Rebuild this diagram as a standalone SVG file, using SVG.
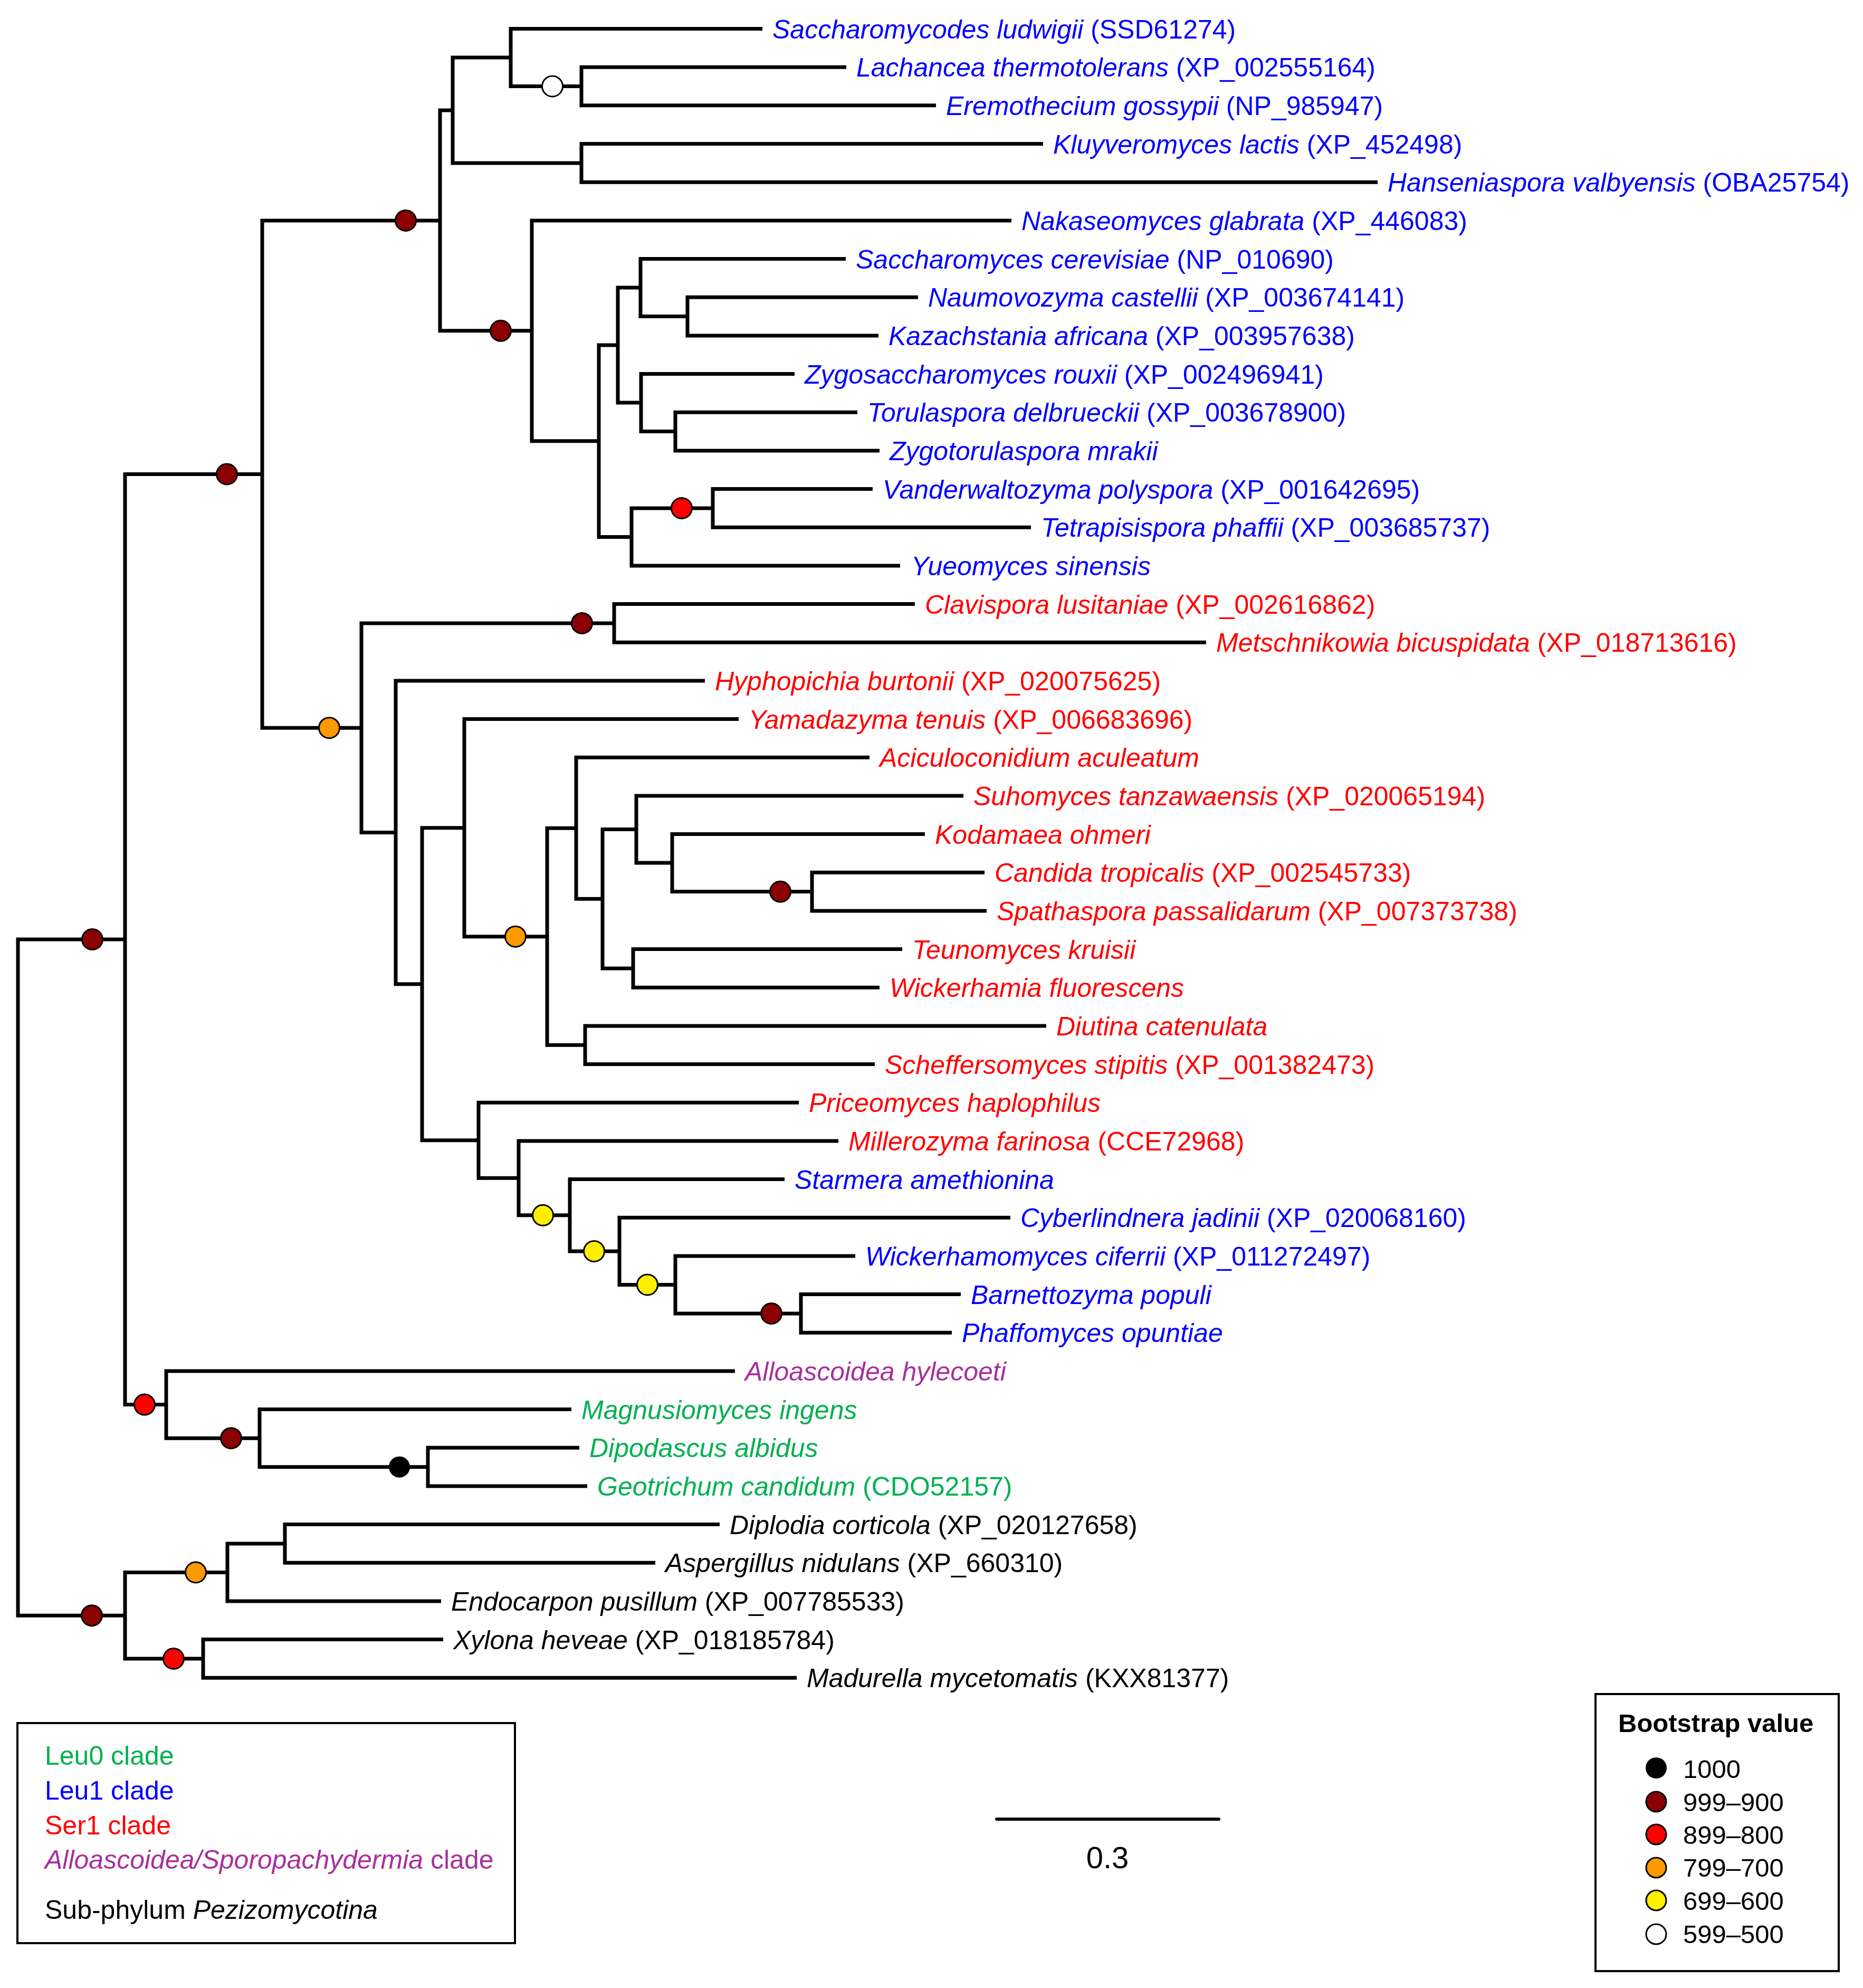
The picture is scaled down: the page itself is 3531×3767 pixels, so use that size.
<svg xmlns="http://www.w3.org/2000/svg" width="3531" height="3767" viewBox="0 0 3531 3767">
<style>
.br{fill:none;stroke:#000;stroke-width:7;stroke-linejoin:miter;stroke-linecap:butt}
text{font-family:"Liberation Sans",Arial,Helvetica,sans-serif;font-size:50px}
.i{font-style:italic}
.bl{fill:#0000FF}.rd{fill:#FF0000}.gr{fill:#00B050}.pu{fill:#A8309C}.bk{fill:#000}
.d{stroke:#000;stroke-width:3}
.c0{fill:#000}.c9{fill:#8B0000}.c8{fill:#FF0000}.c7{fill:#FF9900}.c6{fill:#FFEE00}.c5{fill:#FFFFFF}
.box{fill:none;stroke:#000;stroke-width:4}
</style>
<rect x="0" y="0" width="3531" height="3767" fill="#FFFFFF"/>
<g id="connectors">
<path class="br" d="M1604,127.2 H1102 V199.8 H1774"/>
<path class="br" d="M1445,54.5 H968 V163.5 H1102"/>
<path class="br" d="M1977,272.5 H1102 V345.2 H2611"/>
<path class="br" d="M968,109 H858 V308.9 H1102"/>
<path class="br" d="M1740,563.2 H1303 V635.9 H1665"/>
<path class="br" d="M1603,490.5 H1214 V599.6 H1303"/>
<path class="br" d="M1625,781.2 H1280 V853.9 H1667"/>
<path class="br" d="M1506,708.5 H1215 V817.6 H1280"/>
<path class="br" d="M1214,545 H1171 V763 H1215"/>
<path class="br" d="M1654,926.5 H1351 V999.2 H1954"/>
<path class="br" d="M1351,962.9 H1197 V1071.9 H1706"/>
<path class="br" d="M1171,654 H1135 V1017.4 H1197"/>
<path class="br" d="M1917,417.9 H1008 V835.7 H1135"/>
<path class="br" d="M858,209 H834 V626.8 H1008"/>
<path class="br" d="M1734,1144.6 H1164 V1217.2 H2286"/>
<path class="br" d="M1866,1653.2 H1539 V1725.9 H1870"/>
<path class="br" d="M1753,1580.6 H1274 V1689.6 H1539"/>
<path class="br" d="M1826,1507.9 H1206 V1635.1 H1274"/>
<path class="br" d="M1710,1798.6 H1200 V1871.3 H1667"/>
<path class="br" d="M1206,1571.5 H1142 V1835 H1200"/>
<path class="br" d="M1648,1435.2 H1092 V1703.2 H1142"/>
<path class="br" d="M1983,1943.9 H1109 V2016.6 H1658"/>
<path class="br" d="M1092,1569.2 H1037 V1980.3 H1109"/>
<path class="br" d="M1400,1362.6 H880 V1774.7 H1037"/>
<path class="br" d="M1821,2452.6 H1518 V2525.3 H1804"/>
<path class="br" d="M1621,2379.9 H1280 V2489 H1518"/>
<path class="br" d="M1915,2307.3 H1174 V2434.4 H1280"/>
<path class="br" d="M1487,2234.6 H1080 V2370.9 H1174"/>
<path class="br" d="M1589,2161.9 H983 V2302.8 H1080"/>
<path class="br" d="M1514,2089.3 H907 V2232.3 H983"/>
<path class="br" d="M880,1568.7 H800 V2160.8 H907"/>
<path class="br" d="M1336,1289.9 H750 V1864.8 H800"/>
<path class="br" d="M1164,1180.9 H685 V1577.4 H750"/>
<path class="br" d="M834,417.9 H497 V1379.2 H685"/>
<path class="br" d="M1098,2743.3 H811 V2816 H1113"/>
<path class="br" d="M1083,2670.6 H492 V2779.7 H811"/>
<path class="br" d="M1393,2598 H315 V2725.2 H492"/>
<path class="br" d="M497,898.5 H237 V2661.6 H315"/>
<path class="br" d="M1364,2888.6 H540 V2961.3 H1242"/>
<path class="br" d="M540,2925 H431 V3034 H836"/>
<path class="br" d="M840,3106.6 H385 V3179.3 H1510"/>
<path class="br" d="M431,2979.5 H237 V3143 H385"/>
<path class="br" d="M237,1780 H34 V3061.2 H237"/>
</g>
<g id="bootstrap-dots">
<g id="n-lachancea-eremothecium"><circle class="d c5" cx="1047" cy="163.5" r="19.5"/></g>
<g id="n-nakaseomyces-clade"><circle class="d c9" cx="949" cy="626.8" r="19.5"/></g>
<g id="n-saccharomycetaceae"><circle class="d c9" cx="769" cy="417.9" r="19.5"/></g>
<g id="n-vanderwaltozyma-tetrapisispora"><circle class="d c8" cx="1292" cy="962.9" r="19.5"/></g>
<g id="n-saccharomycetaceae-cug"><circle class="d c9" cx="430" cy="898.5" r="19.5"/></g>
<g id="n-saccharomycotina"><circle class="d c9" cx="175" cy="1780" r="19.5"/></g>
<g id="n-clavispora-metschnikowia"><circle class="d c9" cx="1103" cy="1180.9" r="19.5"/></g>
<g id="n-cug-clade"><circle class="d c7" cx="624" cy="1379.2" r="19.5"/></g>
<g id="n-aciculoconidium-clade"><circle class="d c7" cx="977" cy="1774.7" r="19.5"/></g>
<g id="n-candida-spathaspora"><circle class="d c9" cx="1479" cy="1689.6" r="19.5"/></g>
<g id="n-starmera-clade"><circle class="d c6" cx="1029" cy="2302.8" r="19.5"/></g>
<g id="n-cyberlindnera-clade"><circle class="d c6" cx="1126" cy="2370.9" r="19.5"/></g>
<g id="n-wickerhamomyces-clade"><circle class="d c6" cx="1227" cy="2434.4" r="19.5"/></g>
<g id="n-barnettozyma-phaffomyces"><circle class="d c9" cx="1462" cy="2489" r="19.5"/></g>
<g id="n-alloascoidea-dipodascaceae"><circle class="d c8" cx="274" cy="2661.6" r="19.5"/></g>
<g id="n-dipodascaceae"><circle class="d c9" cx="438" cy="2725.2" r="19.5"/></g>
<g id="n-dipodascus-geotrichum"><circle class="c0" cx="757" cy="2779.7" r="20"/></g>
<g id="n-diplodia-endocarpon"><circle class="d c7" cx="371" cy="2979.5" r="19.5"/></g>
<g id="n-xylona-madurella"><circle class="d c8" cx="329" cy="3143" r="19.5"/></g>
<g id="n-pezizomycotina"><circle class="d c9" cx="174" cy="3061.2" r="19.5"/></g>
</g>
<g id="leaves">
<g id="leaf01"><text class="bl" x="1464" y="72.5"><tspan class="i">Saccharomycodes ludwigii</tspan> (SSD61274)</text></g>
<g id="leaf02"><text class="bl" x="1623" y="145.2"><tspan class="i">Lachancea thermotolerans</tspan> (XP_002555164)</text></g>
<g id="leaf03"><text class="bl" x="1793" y="217.8"><tspan class="i">Eremothecium gossypii</tspan> (NP_985947)</text></g>
<g id="leaf04"><text class="bl" x="1996" y="290.5"><tspan class="i">Kluyveromyces lactis</tspan> (XP_452498)</text></g>
<g id="leaf05"><text class="bl" x="2630" y="363.2"><tspan class="i">Hanseniaspora valbyensis</tspan> (OBA25754)</text></g>
<g id="leaf06"><text class="bl" x="1936" y="435.9"><tspan class="i">Nakaseomyces glabrata</tspan> (XP_446083)</text></g>
<g id="leaf07"><text class="bl" x="1622" y="508.5"><tspan class="i">Saccharomyces cerevisiae</tspan> (NP_010690)</text></g>
<g id="leaf08"><text class="bl" x="1759" y="581.2"><tspan class="i">Naumovozyma castellii</tspan> (XP_003674141)</text></g>
<g id="leaf09"><text class="bl" x="1684" y="653.9"><tspan class="i">Kazachstania africana</tspan> (XP_003957638)</text></g>
<g id="leaf10"><text class="bl" x="1525" y="726.5"><tspan class="i">Zygosaccharomyces rouxii</tspan> (XP_002496941)</text></g>
<g id="leaf11"><text class="bl" x="1644" y="799.2"><tspan class="i">Torulaspora delbrueckii</tspan> (XP_003678900)</text></g>
<g id="leaf12"><text class="bl i" x="1686" y="871.9">Zygotorulaspora mrakii</text></g>
<g id="leaf13"><text class="bl" x="1673" y="944.5"><tspan class="i">Vanderwaltozyma polyspora</tspan> (XP_001642695)</text></g>
<g id="leaf14"><text class="bl" x="1973" y="1017.2"><tspan class="i">Tetrapisispora phaffii</tspan> (XP_003685737)</text></g>
<g id="leaf15"><text class="bl i" x="1727" y="1089.9">Yueomyces sinensis</text></g>
<g id="leaf16"><text class="rd" x="1753" y="1162.6"><tspan class="i">Clavispora lusitaniae</tspan> (XP_002616862)</text></g>
<g id="leaf17"><text class="rd" x="2305" y="1235.2"><tspan class="i">Metschnikowia bicuspidata</tspan> (XP_018713616)</text></g>
<g id="leaf18"><text class="rd" x="1355" y="1307.9"><tspan class="i">Hyphopichia burtonii</tspan> (XP_020075625)</text></g>
<g id="leaf19"><text class="rd" x="1419" y="1380.6"><tspan class="i">Yamadazyma tenuis</tspan> (XP_006683696)</text></g>
<g id="leaf20"><text class="rd i" x="1667" y="1453.2">Aciculoconidium aculeatum</text></g>
<g id="leaf21"><text class="rd" x="1845" y="1525.9"><tspan class="i">Suhomyces tanzawaensis</tspan> (XP_020065194)</text></g>
<g id="leaf22"><text class="rd i" x="1772" y="1598.6">Kodamaea ohmeri</text></g>
<g id="leaf23"><text class="rd" x="1885" y="1671.2"><tspan class="i">Candida tropicalis</tspan> (XP_002545733)</text></g>
<g id="leaf24"><text class="rd" x="1889" y="1743.9"><tspan class="i">Spathaspora passalidarum</tspan> (XP_007373738)</text></g>
<g id="leaf25"><text class="rd i" x="1729" y="1816.6">Teunomyces kruisii</text></g>
<g id="leaf26"><text class="rd i" x="1686" y="1889.3">Wickerhamia fluorescens</text></g>
<g id="leaf27"><text class="rd i" x="2002" y="1961.9">Diutina catenulata</text></g>
<g id="leaf28"><text class="rd" x="1677" y="2034.6"><tspan class="i">Scheffersomyces stipitis</tspan> (XP_001382473)</text></g>
<g id="leaf29"><text class="rd i" x="1533" y="2107.3">Priceomyces haplophilus</text></g>
<g id="leaf30"><text class="rd" x="1608" y="2179.9"><tspan class="i">Millerozyma farinosa</tspan> (CCE72968)</text></g>
<g id="leaf31"><text class="bl i" x="1506" y="2252.6">Starmera amethionina</text></g>
<g id="leaf32"><text class="bl" x="1934" y="2325.3"><tspan class="i">Cyberlindnera jadinii</tspan> (XP_020068160)</text></g>
<g id="leaf33"><text class="bl" x="1640" y="2397.9"><tspan class="i">Wickerhamomyces ciferrii</tspan> (XP_011272497)</text></g>
<g id="leaf34"><text class="bl i" x="1840" y="2470.6">Barnettozyma populi</text></g>
<g id="leaf35"><text class="bl i" x="1823" y="2543.3">Phaffomyces opuntiae</text></g>
<g id="leaf36"><text class="pu i" x="1412" y="2616">Alloascoidea hylecoeti</text></g>
<g id="leaf37"><text class="gr i" x="1102" y="2688.6">Magnusiomyces ingens</text></g>
<g id="leaf38"><text class="gr i" x="1117" y="2761.3">Dipodascus albidus</text></g>
<g id="leaf39"><text class="gr" x="1132" y="2834"><tspan class="i">Geotrichum candidum</tspan> (CDO52157)</text></g>
<g id="leaf40"><text class="bk" x="1383" y="2906.6"><tspan class="i">Diplodia corticola</tspan> (XP_020127658)</text></g>
<g id="leaf41"><text class="bk" x="1261" y="2979.3"><tspan class="i">Aspergillus nidulans</tspan> (XP_660310)</text></g>
<g id="leaf42"><text class="bk" x="855" y="3052"><tspan class="i">Endocarpon pusillum</tspan> (XP_007785533)</text></g>
<g id="leaf43"><text class="bk" x="859" y="3124.6"><tspan class="i">Xylona heveae</tspan> (XP_018185784)</text></g>
<g id="leaf44"><text class="bk" x="1529" y="3197.3"><tspan class="i">Madurella mycetomatis</tspan> (KXX81377)</text></g>
</g>
<g id="clade-legend">
<rect class="box" x="33" y="3265" width="943" height="417"/>
<text class="gr" x="85" y="3344">Leu0 clade</text>
<text class="bl" x="85" y="3410">Leu1 clade</text>
<text class="rd" x="85" y="3476">Ser1 clade</text>
<text class="pu" x="85" y="3541"><tspan class="i">Alloascoidea/Sporopachydermia</tspan> clade</text>
<text class="bk" x="85" y="3636">Sub-phylum <tspan class="i">Pezizomycotina</tspan></text>
</g>
<g id="scale-bar">
<line x1="1889" y1="3447" x2="2310" y2="3447" stroke="#000" stroke-width="6" stroke-linecap="round"/>
<text class="bk" x="2099" y="3540" text-anchor="middle" style="font-size:58px">0.3</text>
</g>
<g id="bootstrap-legend">
<rect class="box" x="3024" y="3210" width="461" height="525"/>
<text class="bk" x="3067" y="3282" style="font-weight:bold;font-size:49px">Bootstrap value</text>
<circle class="c0" cx="3139" cy="3350" r="20"/>
<circle class="d c9" cx="3139" cy="3414" r="19"/>
<circle class="d c8" cx="3139" cy="3476" r="19"/>
<circle class="d c7" cx="3139" cy="3539" r="19"/>
<circle class="d c6" cx="3139" cy="3601" r="19"/>
<circle class="d c5" cx="3139" cy="3665" r="19"/>
<text class="bk" x="3190" y="3369" style="font-size:49px">1000</text>
<text class="bk" x="3190" y="3432" style="font-size:49px">999–900</text>
<text class="bk" x="3190" y="3494" style="font-size:49px">899–800</text>
<text class="bk" x="3190" y="3556" style="font-size:49px">799–700</text>
<text class="bk" x="3190" y="3619" style="font-size:49px">699–600</text>
<text class="bk" x="3190" y="3682" style="font-size:49px">599–500</text>
</g>
</svg>
